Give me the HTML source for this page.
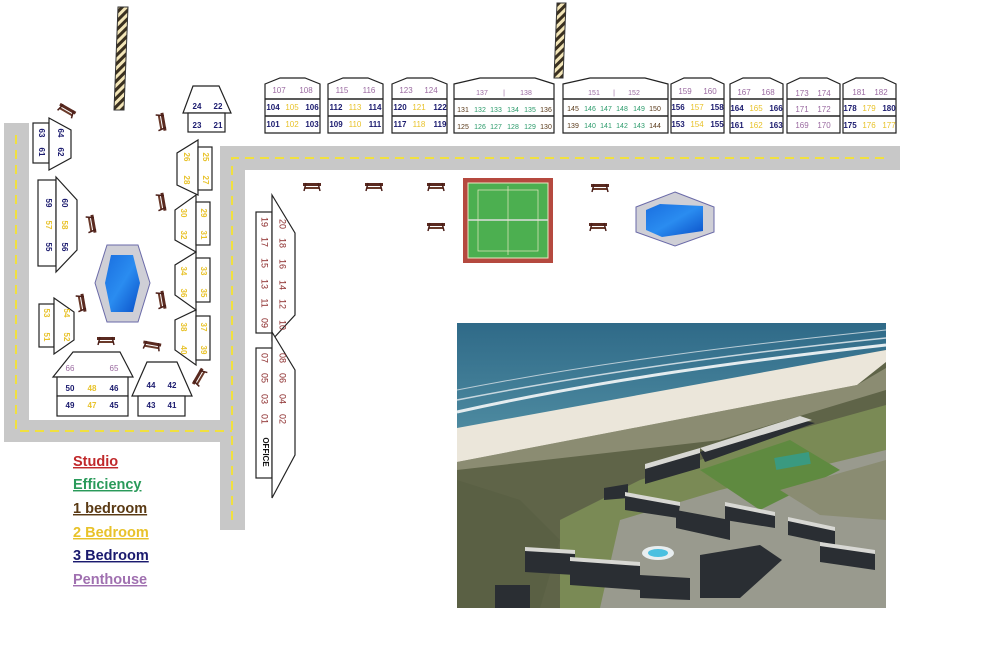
<!DOCTYPE html>
<html><head><meta charset="utf-8"><style>
html,body{margin:0;padding:0;background:#fff;width:1000px;height:647px;overflow:hidden}
svg{display:block}
text{font-family:"Liberation Sans",sans-serif}
.n{fill:#1a1a6e;font-weight:bold;font-size:8px}
.y{fill:#e8c22a;font-size:8px}
.p{fill:#9a6aa0;font-size:8px}
.g{fill:#2a9a6a;font-size:7px}
.b{fill:#5a3a1a;font-size:7px}
.r{fill:#8b2a2a;font-size:9px}
.bs{stroke:#222;stroke-width:1.2;fill:#fff}
.leg{font-weight:bold;font-size:14.5px;text-decoration:underline}
</style></head><body>
<svg width="1000" height="647" viewBox="0 0 1000 647" xmlns="http://www.w3.org/2000/svg">
<defs>
<pattern id="hat" width="6" height="6" patternUnits="userSpaceOnUse" patternTransform="rotate(45)">
<rect width="6" height="6" fill="#f3e6b8"/><rect width="3" height="6" fill="#3a3020"/></pattern>
<linearGradient id="wat" x1="0" y1="0" x2="1" y2="1"><stop offset="0" stop-color="#1a6fe0"/><stop offset=".5" stop-color="#2a8cf0"/><stop offset="1" stop-color="#0a50c8"/></linearGradient>
<linearGradient id="sea" x1="0" y1="0" x2="0" y2="1"><stop offset="0" stop-color="#2f6a88"/><stop offset="1" stop-color="#4d8aa0"/></linearGradient>
<g id="pic"><rect x="-9" y="-3" width="18" height="3" fill="#5a2a20"/><rect x="-7" y="1" width="14" height="2" fill="#6a3a2a"/><line x1="-6" y1="-3" x2="-8" y2="5" stroke="#4a1e18" stroke-width="1.5"/><line x1="6" y1="-3" x2="8" y2="5" stroke="#4a1e18" stroke-width="1.5"/></g>
</defs>
<g fill="#c8c8c8">
<rect x="4" y="123" width="25" height="319"/>
<rect x="4" y="420" width="241" height="22"/>
<rect x="220" y="146" width="25" height="384"/>
<rect x="220" y="146" width="680" height="24"/>
</g>
<g stroke="#f0e040" stroke-width="2" stroke-dasharray="9,6" fill="none">
<path d="M16 135 V431 H232"/>
<path d="M232 520 V158 H890"/>
</g>
<polygon points="118,7 128,7 124,110 114,110" fill="url(#hat)" stroke="#333"/>
<polygon points="557,3 566,3 563,78 554,78" fill="url(#hat)" stroke="#333"/>
<g>
<use href="#pic" transform="translate(67,110) rotate(30)"/>
<use href="#pic" transform="translate(162,122) rotate(80)"/>
<use href="#pic" transform="translate(312,186)"/>
<use href="#pic" transform="translate(374,186)"/>
<use href="#pic" transform="translate(436,186)"/>
<use href="#pic" transform="translate(600,187)"/>
<use href="#pic" transform="translate(436,226)"/>
<use href="#pic" transform="translate(598,226)"/>
<use href="#pic" transform="translate(162,202) rotate(80)"/>
<use href="#pic" transform="translate(92,224) rotate(80)"/>
<use href="#pic" transform="translate(162,300) rotate(80)"/>
<use href="#pic" transform="translate(82,303) rotate(80)"/>
<use href="#pic" transform="translate(106,340)"/>
<use href="#pic" transform="translate(152,345) rotate(10)"/>
<use href="#pic" transform="translate(199,377) rotate(-60)"/>
</g>
<polygon points="107,245 138,245 150,283 138,322 107,322 95,283" fill="#cfcfd6" stroke="#6a6aa8"/>
<polygon points="111,255 133,255 140,283 133,312 111,312 105,283" fill="url(#wat)"/>
<polygon points="675,192 714,207 714,232 675,246 636,232 636,207" fill="#cfcfd6" stroke="#6a6aa8"/>
<polygon points="660,204 703,206 703,231 662,237 646,230 646,210" fill="url(#wat)"/>
<rect x="463" y="178" width="90" height="85" fill="#b5493f"/>
<rect x="468" y="183" width="80" height="75" fill="#4caf50" stroke="#e8e8c0" stroke-width="1"/>
<line x1="468" y1="220" x2="548" y2="220" stroke="#ddd" stroke-width="1.5"/>
<line x1="508" y1="186" x2="508" y2="255" stroke="#e8e8c0" stroke-width=".7"/>
<rect x="478" y="190" width="60" height="61" fill="none" stroke="#e8e8c0" stroke-width=".7"/>

<g class="bs">
<rect x="33" y="123" width="16" height="40"/><polygon points="49,118 71,130 71,158 49,170"/>
<rect x="38" y="180" width="18" height="86"/><polygon points="56,177 77,200 77,250 56,272"/>
<rect x="39" y="304" width="15" height="43"/><polygon points="54,298 74,312 74,340 54,354"/>
<polygon points="73,352 120,352 133,377 53,377"/><rect x="57" y="377" width="71" height="19"/><rect x="57" y="396" width="71" height="20"/>
<polygon points="147,362 177,362 192,396 132,396"/><rect x="138" y="396" width="47" height="20"/>
<polygon points="193,86 219,86 231,113 183,113"/><rect x="188" y="113" width="37" height="19"/>
<polygon points="198,140 198,195 177,185 177,153"/><rect x="198" y="147" width="14" height="43"/>
<polygon points="196,195 196,252 175,240 175,210"/><rect x="196" y="202" width="14" height="43"/>
<polygon points="196,252 196,310 175,295 175,265"/><rect x="196" y="258" width="14" height="44"/>
<polygon points="196,310 196,365 175,350 175,320"/><rect x="196" y="316" width="14" height="44"/>
<rect x="256" y="212" width="16" height="121"/><polygon points="272,195 295,233 295,315 272,340"/>
<rect x="256" y="348" width="16" height="130"/><polygon points="272,332 295,370 295,455 272,498"/>
</g>
<g text-anchor="middle" dominant-baseline="middle">
<g class="n">
<text transform="translate(41,133) rotate(90)">63</text><text transform="translate(41,152) rotate(90)">61</text>
<text transform="translate(60,133) rotate(90)">64</text><text transform="translate(60,152) rotate(90)">62</text>
<text transform="translate(48,203) rotate(90)">59</text><text transform="translate(48,247) rotate(90)">55</text>
<text transform="translate(64,203) rotate(90)">60</text><text transform="translate(64,247) rotate(90)">56</text>
<text x="70" y="389">50</text><text x="114" y="389">46</text><text x="70" y="406">49</text><text x="114" y="406">45</text>
<text x="151" y="386">44</text><text x="172" y="386">42</text><text x="151" y="406">43</text><text x="172" y="406">41</text>
<text x="197" y="107">24</text><text x="218" y="107">22</text><text x="197" y="126">23</text><text x="218" y="126">21</text>
</g>
<g class="y" style="font-weight:bold">
<text transform="translate(48,225) rotate(90)">57</text><text transform="translate(64,225) rotate(90)">58</text>
<text transform="translate(46,313) rotate(90)">53</text><text transform="translate(46,337) rotate(90)">51</text>
<text transform="translate(66,313) rotate(90)">54</text><text transform="translate(66,337) rotate(90)">52</text>
<text x="92" y="389">48</text><text x="92" y="406">47</text>
<text transform="translate(186,157) rotate(90)">26</text><text transform="translate(186,180) rotate(90)">28</text>
<text transform="translate(205,157) rotate(90)">25</text><text transform="translate(205,180) rotate(90)">27</text>
<text transform="translate(183,213) rotate(90)">30</text><text transform="translate(183,235) rotate(90)">32</text>
<text transform="translate(203,213) rotate(90)">29</text><text transform="translate(203,235) rotate(90)">31</text>
<text transform="translate(183,271) rotate(90)">34</text><text transform="translate(183,293) rotate(90)">36</text>
<text transform="translate(203,271) rotate(90)">33</text><text transform="translate(203,293) rotate(90)">35</text>
<text transform="translate(183,327) rotate(90)">38</text><text transform="translate(183,350) rotate(90)">40</text>
<text transform="translate(203,327) rotate(90)">37</text><text transform="translate(203,350) rotate(90)">39</text>
</g>
<g class="p"><text x="70" y="369">66</text><text x="114" y="369">65</text></g>
<g class="r">
<text transform="translate(264,222) rotate(90)">19</text><text transform="translate(264,242) rotate(90)">17</text>
<text transform="translate(264,263) rotate(90)">15</text><text transform="translate(264,284) rotate(90)">13</text>
<text transform="translate(264,303) rotate(90)">11</text><text transform="translate(264,323) rotate(90)">09</text>
<text transform="translate(282,224) rotate(90)">20</text><text transform="translate(282,243) rotate(90)">18</text>
<text transform="translate(282,264) rotate(90)">16</text><text transform="translate(282,285) rotate(90)">14</text>
<text transform="translate(282,304) rotate(90)">12</text><text transform="translate(282,325) rotate(90)">10</text>
<text transform="translate(264,358) rotate(90)">07</text><text transform="translate(264,378) rotate(90)">05</text>
<text transform="translate(264,399) rotate(90)">03</text><text transform="translate(264,419) rotate(90)">01</text>
<text transform="translate(282,358) rotate(90)">08</text><text transform="translate(282,378) rotate(90)">06</text>
<text transform="translate(282,399) rotate(90)">04</text><text transform="translate(282,419) rotate(90)">02</text>
</g>
<text transform="translate(265,452) rotate(90)" style="font-size:8px;font-weight:bold;fill:#111">OFFICE</text>
</g>

<g class="bs">
<path d="M265,84 L280,78 L305,78 L320,84 V133 H265 Z"/><path d="M265,99H320M265,116H320" fill="none" stroke-width="1.5"/>
<path d="M328,84 L343,78 L368,78 L383,84 V133 H328 Z"/><path d="M328,99H383M328,116H383" fill="none" stroke-width="1.5"/>
<path d="M392,84 L407,78 L432,78 L447,84 V133 H392 Z"/><path d="M392,99H447M392,116H447" fill="none" stroke-width="1.5"/>
<path d="M454,84 L480,78 L535,78 L554,84 V133 H454 Z"/><path d="M454,99H554M454,116H554" fill="none" stroke-width="1.5"/>
<path d="M563,84 L590,78 L645,78 L668,84 V133 H563 Z"/><path d="M563,99H668M563,116H668" fill="none" stroke-width="1.5"/>
<path d="M671,84 L684,78 L711,78 L724,84 V133 H671 Z"/><path d="M671,99H724M671,116H724" fill="none" stroke-width="1.5"/>
<path d="M730,84 L743,78 L770,78 L783,84 V133 H730 Z"/><path d="M730,99H783M730,116H783" fill="none" stroke-width="1.5"/>
<path d="M787,84 L800,78 L827,78 L840,84 V133 H787 Z"/><path d="M787,99H840M787,116H840" fill="none" stroke-width="1.5"/>
<path d="M843,84 L856,78 L883,78 L896,84 V133 H843 Z"/><path d="M843,99H896M843,116H896" fill="none" stroke-width="1.5"/>
</g>
<g text-anchor="middle" dominant-baseline="middle">
<g class="p">
<text x="279" y="91">107</text><text x="306" y="91">108</text>
<text x="342" y="91">115</text><text x="369" y="91">116</text>
<text x="406" y="91">123</text><text x="431" y="91">124</text>
<text x="482" y="93" style="font-size:7px">137</text><text x="504" y="93" style="font-size:7px">|</text><text x="526" y="93" style="font-size:7px">138</text>
<text x="594" y="93" style="font-size:7px">151</text><text x="614" y="93" style="font-size:7px">|</text><text x="634" y="93" style="font-size:7px">152</text>
<text x="685" y="92">159</text><text x="710" y="92">160</text>
<text x="744" y="93">167</text><text x="768" y="93">168</text>
<text x="802" y="94">173</text><text x="824" y="94">174</text>
<text x="859" y="93">181</text><text x="881" y="93">182</text>
<text x="802" y="110">171</text><text x="824" y="110">172</text>
<text x="802" y="126">169</text><text x="824" y="126">170</text>
</g>
<g class="n">
<text x="273" y="108">104</text><text x="312" y="108">106</text><text x="273" y="125">101</text><text x="312" y="125">103</text>
<text x="336" y="108">112</text><text x="375" y="108">114</text><text x="336" y="125">109</text><text x="375" y="125">111</text>
<text x="400" y="108">120</text><text x="440" y="108">122</text><text x="400" y="125">117</text><text x="440" y="125">119</text>
<text x="678" y="108">156</text><text x="717" y="108">158</text><text x="678" y="125">153</text><text x="717" y="125">155</text>
<text x="737" y="109">164</text><text x="776" y="109">166</text><text x="737" y="126">161</text><text x="776" y="126">163</text>
<text x="850" y="109">178</text><text x="889" y="109">180</text><text x="850" y="126">175</text>
</g>
<g class="y">
<text x="292" y="108">105</text><text x="292" y="125">102</text>
<text x="355" y="108">113</text><text x="355" y="125">110</text>
<text x="419" y="108">121</text><text x="419" y="125">118</text>
<text x="697" y="108">157</text><text x="697" y="125">154</text>
<text x="756" y="109">165</text><text x="756" y="126">162</text>
<text x="869" y="109">179</text><text x="869" y="126">176</text><text x="889" y="126">177</text>
</g>
<g class="b"><text x="463" y="110">131</text><text x="546" y="110">136</text><text x="463" y="127">125</text><text x="546" y="127">130</text>
<text x="573" y="109">145</text><text x="655" y="109">150</text><text x="573" y="126">139</text><text x="655" y="126">144</text></g>
<g class="g">
<text x="480" y="110">132</text><text x="496" y="110">133</text><text x="513" y="110">134</text><text x="530" y="110">135</text>
<text x="480" y="127">126</text><text x="496" y="127">127</text><text x="513" y="127">128</text><text x="530" y="127">129</text>
<text x="590" y="109">146</text><text x="606" y="109">147</text><text x="622" y="109">148</text><text x="639" y="109">149</text>
<text x="590" y="126">140</text><text x="606" y="126">141</text><text x="622" y="126">142</text><text x="639" y="126">143</text>
</g>
</g>

<text x="73" y="466" class="leg" fill="#c0282a">Studio</text>
<text x="73" y="489" class="leg" fill="#2a9a5a">Efficiency</text>
<text x="73" y="513" class="leg" fill="#5a3a14">1 bedroom</text>
<text x="73" y="537" class="leg" fill="#e8c22a">2 Bedroom</text>
<text x="73" y="560" class="leg" fill="#1a1a6e">3 Bedroom</text>
<text x="73" y="584" class="leg" fill="#a070b0">Penthouse</text>

<!-- photo -->
<g>
<rect x="457" y="323" width="429" height="285" fill="#5f6448"/>
<polygon points="457,323 886,323 886,350 457,430" fill="url(#sea)"/>
<path d="M457,412 C600,380 750,360 886,345" stroke="#e4ecef" stroke-width="3" fill="none"/>
<path d="M457,400 C600,372 750,352 886,338" stroke="#c8d8e0" stroke-width="1.5" fill="none"/>
<path d="M457,390 C600,362 750,344 886,330" stroke="#b8ccd6" stroke-width="1" fill="none"/>
<polygon points="457,428 886,350 886,362 857,385 457,462" fill="#ebe6da"/>
<polygon points="457,462 857,385 886,368 886,390 720,440 457,470" fill="#a8a690" opacity=".6"/>
<polygon points="560,520 640,480 760,440 886,405 886,608 560,608" fill="#7a8a55"/>
<polygon points="620,520 720,490 886,450 886,608 600,608" fill="#999a8e"/>
<polygon points="700,470 790,440 840,470 760,510" fill="#5f8a40"/>
<polygon points="780,490 886,460 886,520 820,515" fill="#8a8c72"/>
<polygon points="457,480 520,500 560,540 540,608 457,608" fill="#5a6044"/>
<g fill="#2a2e33">
<polygon points="645,468 700,452 700,468 645,484"/>
<polygon points="700,452 800,420 815,423 705,462"/>
<polygon points="604,488 628,484 628,498 604,500"/>
<polygon points="625,495 680,505 678,518 625,510"/>
<polygon points="676,510 730,520 730,540 676,528"/>
<polygon points="725,505 775,515 775,528 725,520"/>
<polygon points="788,520 835,530 835,545 788,535"/>
<polygon points="820,545 875,553 875,570 820,562"/>
<polygon points="525,550 575,553 575,575 525,572"/>
<polygon points="570,560 640,565 640,590 570,585"/>
<polygon points="640,575 690,578 690,600 640,598"/>
<polygon points="700,555 760,545 782,560 740,598 700,598"/>
<polygon points="495,585 530,585 530,608 495,608"/>
</g>
<g fill="#d8d8d4">
<polygon points="645,464 700,448 700,453 645,469"/>
<polygon points="700,448 800,416 812,420 705,452"/>
<polygon points="625,492 680,502 680,506 625,496"/>
<polygon points="725,502 775,512 775,516 725,506"/>
<polygon points="788,517 835,527 835,531 788,521"/>
<polygon points="820,542 875,550 875,554 820,546"/>
<polygon points="525,547 575,550 575,554 525,551"/>
<polygon points="570,557 640,562 640,566 570,561"/>
</g>
<ellipse cx="658" cy="553" rx="16" ry="7" fill="#e8eef0"/>
<ellipse cx="658" cy="553" rx="10" ry="4" fill="#4ac0e0"/>
<rect x="775" y="455" width="35" height="12" fill="#3a9a80" transform="rotate(-10 792 461)"/>
</g>
</svg>
</body></html>
